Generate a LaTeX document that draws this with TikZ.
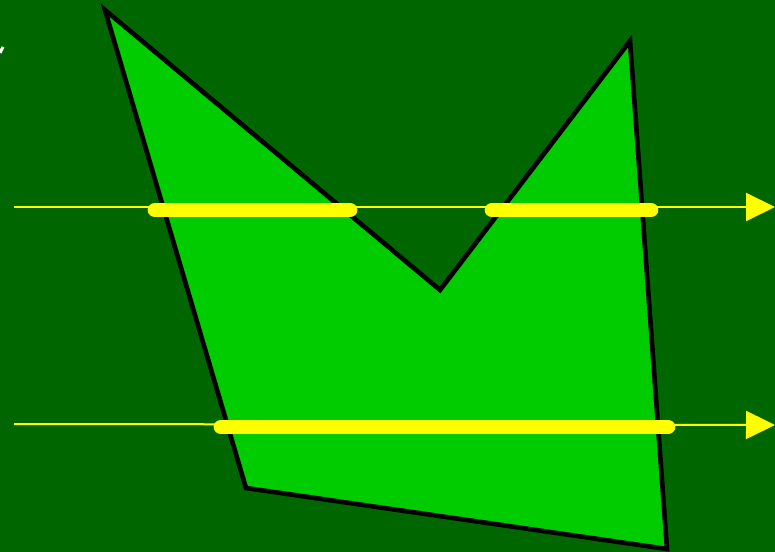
\documentclass[tikz,border=0pt]{standalone}
\usetikzlibrary{arrows.meta}
\definecolor{bgdark}{HTML}{006600}
\definecolor{polyfill}{HTML}{00CC00}
\definecolor{raycol}{HTML}{FFFF00}
\tikzset{
  ray/.style={raycol, line width=1.5pt, -{Triangle[length=21.75pt,width=21pt]}},
  span/.style={raycol, line width=11pt, line cap=round},
  poly/.style={draw=black, fill=polyfill, line width=3.5pt, line join=miter}
}
\begin{document}
\begin{tikzpicture}[x=0.75pt,y=-0.75pt]
\fill[bgdark] (0,0) rectangle (775,552);
\useasboundingbox (0,0) rectangle (775,552);
\draw[white, line width=2.2pt] (0,53) -- (3,47);
\draw[poly] (105,10) -- (440,290) -- (630,41) -- (667,549) -- (246,488) -- cycle;
\coordinate (r1s) at (14,207);
\coordinate (r1e) at (775,207);
\coordinate (r2s) at (14,424);
\coordinate (r2e) at (775,425);
\draw[ray] (r1s) -- (r1e);
\draw[ray] (r2s) -- (r2e);
\draw[span] (155,210) -- (350,210);
\draw[span] (492,210) -- (651,210);
\draw[span] (221,427) -- (668,427);
\end{tikzpicture}
\end{document}
